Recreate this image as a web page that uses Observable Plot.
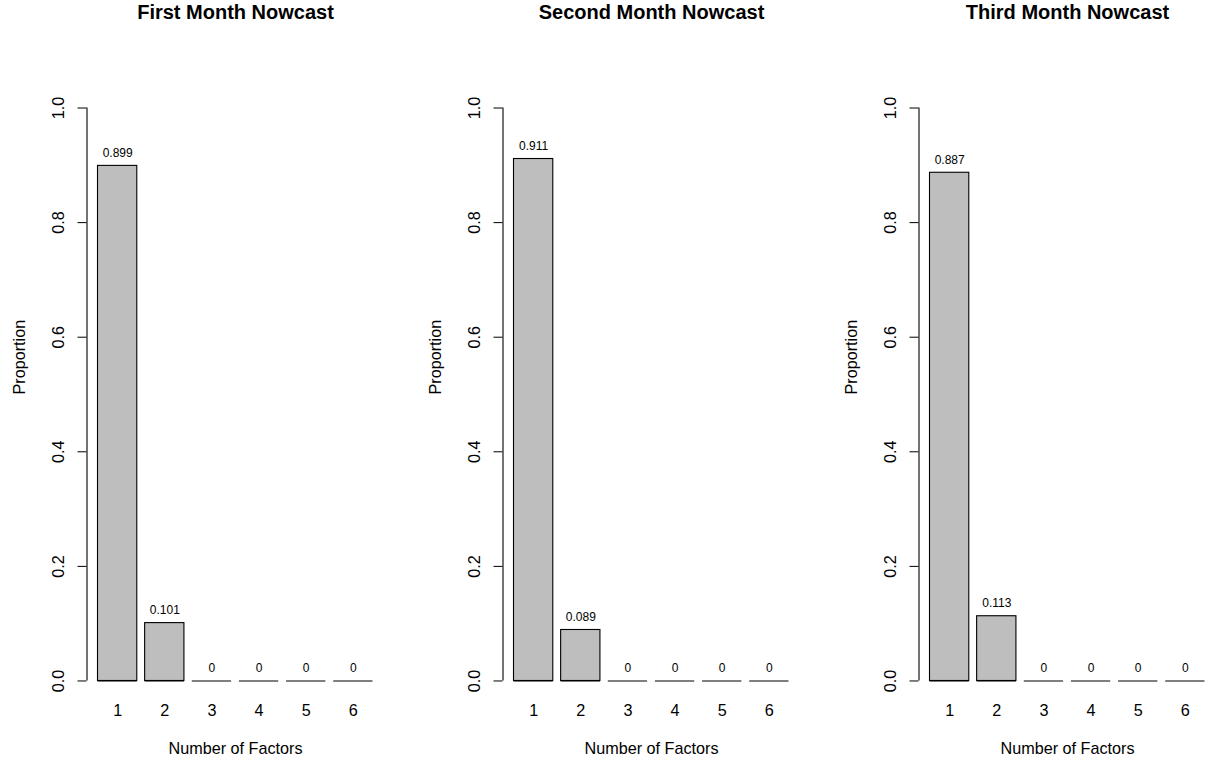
<!DOCTYPE html>
<html>
<head>
<meta charset="utf-8">
<script src="https://cdn.jsdelivr.net/npm/d3@7"></script>
<script src="https://cdn.jsdelivr.net/npm/@observablehq/plot@0.6"></script>
<style>
  html, body { margin: 0; padding: 0; background: #fff; overflow: hidden; }
  #wrap { position: relative; width: 1205px; height: 763px; overflow: hidden; }
  .panel { position: absolute; top: 0; width: 416px; height: 763px; }
  .panel svg { max-width: none !important; width: 416px !important; height: 763px !important; font-family: "Liberation Sans", Arial, Helvetica, sans-serif; }
</style>
</head>
<body>
<div id="wrap"></div>
<script>
const titles = ["First Month Nowcast", "Second Month Nowcast", "Third Month Nowcast"];
const factors = [1, 2, 3, 4, 5, 6];
const firstMonth = [0.899, 0.101, 0, 0, 0, 0];
const secondMonth = [0.911, 0.089, 0, 0, 0, 0];
const thirdMonth = [0.887, 0.113, 0, 0, 0, 0];
const series = [firstMonth, secondMonth, thirdMonth];
const yTicks = [0, 0.2, 0.4, 0.6, 0.8, 1.0];
const yLabel = "Proportion";
const xLabel = "Number of Factors";

// R barplot geometry: width 1, space 0.2
const space = 0.2;
const panelOffsets = [0, 416, 832];

const wrap = document.getElementById("wrap");

series.forEach((vals, k) => {
  const data = factors.map((f, i) => ({
    factor: f,
    value: vals[i],
    x1: space + i * (1 + space),
    x2: (i + 1) * (1 + space)
  }));
  const xMinR = d3.min(data, d => d.x1), xMaxR = d3.max(data, d => d.x2);
  const xPad = 0.04 * (xMaxR - xMinR);
  const xDomain = [xMinR - xPad, xMaxR + xPad];
  const yDomain = [0 - 0.04, 1 + 0.04];
  const xAxisPos = xDomain[0];
  const font = 16.2;

  const chart = Plot.plot({
    width: 416,
    height: 763,
    marginLeft: 86.5,
    marginRight: 32.5,
    marginTop: 84.6,
    marginBottom: 59.6,
    style: { fontFamily: '"Liberation Sans", Arial, Helvetica, sans-serif', color: "#000", background: "#fff" },
    x: { domain: xDomain, axis: null },
    y: { domain: yDomain, axis: "left", ticks: yTicks, tickSize: 9, tickFormat: () => "", label: null },
    marks: [
      // bars
      Plot.rect(data, { x1: "x1", x2: "x2", y1: 0, y2: "value", fill: "#bebebe", stroke: "#000", strokeWidth: 1.1 }),
      // baseline segment for each bar (visible for zero-height bars)
      Plot.ruleY(data, { x1: "x1", x2: "x2", y: 0, stroke: "#000", strokeWidth: 1.1 }),
      // value labels
      Plot.text(data, { x: d => (d.x1 + d.x2) / 2, y: "value", text: d => String(d.value), dy: -13, fontSize: 12, lineAnchor: "middle", fill: "#000" }),
      // x category labels
      Plot.text(data, { x: d => (d.x1 + d.x2) / 2, frameAnchor: "bottom", lineAnchor: "middle", text: d => String(d.factor), dy: 6.6, fontSize: font, fill: "#000" }),
      // y axis line
      Plot.ruleX([xAxisPos], { y1: yTicks[0], y2: yTicks[yTicks.length - 1], stroke: "#000", strokeWidth: 1.1 }),
      // y tick labels (rotated, like R's default)
      Plot.text(yTicks, { x: xAxisPos, y: d => d, text: d => d.toFixed(1), rotate: -90, dx: -28.5, fontSize: font, lineAnchor: "middle", fill: "#000" }),
      // y axis title
      Plot.text([yLabel], { frameAnchor: "left", lineAnchor: "middle", text: d => d, rotate: -90, dx: -67.5, fontSize: font, fill: "#000" }),
      // x axis title
      Plot.text([xLabel], { frameAnchor: "bottom", lineAnchor: "middle", text: d => d, dy: 44.6, fontSize: font, fill: "#000" }),
      // panel title
      Plot.text([titles[k]], { frameAnchor: "top", lineAnchor: "middle", text: d => d, dy: -73, fontSize: 20, fontWeight: "bold", fill: "#000" })
    ]
  });
  const div = document.createElement("div");
  div.className = "panel";
  div.style.left = panelOffsets[k] + "px";
  div.appendChild(chart);
  wrap.appendChild(div);
});
</script>
</body>
</html>
